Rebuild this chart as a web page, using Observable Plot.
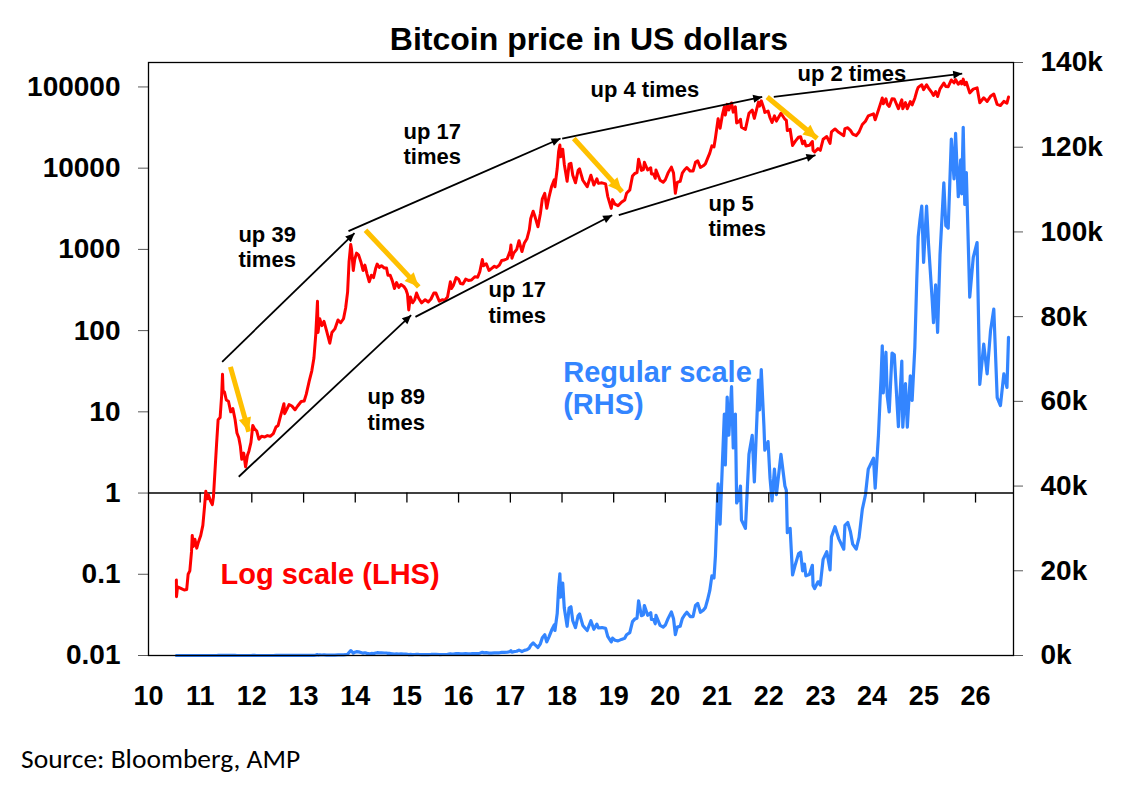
<!DOCTYPE html>
<html><head><meta charset="utf-8">
<script src="https://cdn.jsdelivr.net/npm/d3@7"></script>
<script src="https://cdn.jsdelivr.net/npm/@observablehq/plot@0.6"></script>
<style>
html,body{margin:0;padding:0;background:#fff;overflow:hidden}
#wrap{position:relative;width:1121px;height:786px;background:#fff;font-family:"Liberation Sans",Arial,sans-serif}
.layer{position:absolute;left:0;top:0}
#title{position:absolute;left:589px;top:23px;transform:translateX(-50%);font-size:32px;font-weight:bold;line-height:32px;white-space:nowrap;color:#000}
#source{position:absolute;left:21px;top:745px;font-size:27.5px;line-height:28px;color:#000;white-space:nowrap;font-family:Carlito,"Liberation Sans",Arial,sans-serif}
</style></head>
<body>
<div id="wrap">
<div id="lin" class="layer"></div>
<div id="log" class="layer"></div>
<div id="title">Bitcoin price in US dollars</div>
<div id="source">Source: Bloomberg, AMP</div>
</div>
<script>
// ---- Bitcoin price (US$) ----
const priceDates = [
"2010-07-17","2010-07-18","2010-07-25","2010-08-10","2010-08-25","2010-09-10","2010-09-28","2010-10-08","2010-10-20","2010-11-01",
"2010-11-06","2010-11-14","2010-11-25","2010-12-08","2010-12-20","2011-01-05","2011-01-20","2011-02-01","2011-02-10","2011-02-20",
"2011-03-01","2011-03-15","2011-03-28","2011-04-05","2011-04-16","2011-04-27","2011-05-08","2011-05-22","2011-06-02","2011-06-08",
"2011-06-12","2011-06-22","2011-07-05","2011-07-20","2011-08-05","2011-08-20","2011-09-05","2011-09-18","2011-10-01","2011-10-12",
"2011-10-22","2011-11-05","2011-11-18","2011-12-01","2011-12-12","2011-12-26","2012-01-08","2012-01-20","2012-02-05","2012-02-20",
"2012-03-10","2012-04-01","2012-04-20","2012-05-10","2012-06-01","2012-06-20","2012-07-05","2012-07-20","2012-08-15","2012-08-20",
"2012-09-05","2012-09-20","2012-10-10","2012-11-01","2012-11-20","2012-12-15","2013-01-05","2013-01-20","2013-02-10","2013-02-28",
"2013-03-15","2013-03-28","2013-04-09","2013-04-13","2013-04-25","2013-05-10","2013-05-25","2013-06-12","2013-07-05","2013-07-20",
"2013-08-10","2013-09-01","2013-09-20","2013-10-10","2013-10-25","2013-11-08","2013-11-18","2013-11-30","2013-12-06","2013-12-18",
"2013-12-28","2014-01-10","2014-01-25","2014-02-10","2014-02-25","2014-03-10","2014-03-25","2014-04-10","2014-04-25","2014-05-10",
"2014-05-25","2014-06-05","2014-06-20","2014-07-05","2014-07-25","2014-08-10","2014-08-20","2014-09-05","2014-09-20","2014-10-05",
"2014-10-20","2014-11-05","2014-11-20","2014-12-10","2014-12-25","2015-01-05","2015-01-14","2015-01-25","2015-02-10","2015-02-25",
"2015-03-10","2015-03-25","2015-04-15","2015-05-10","2015-06-01","2015-06-20","2015-07-10","2015-07-25","2015-08-18","2015-09-10",
"2015-09-25","2015-10-15","2015-11-04","2015-11-12","2015-11-25","2015-12-15","2016-01-01","2016-01-15","2016-02-01","2016-02-20",
"2016-03-10","2016-04-01","2016-04-25","2016-05-15","2016-05-30","2016-06-17","2016-06-25","2016-07-15","2016-08-03","2016-08-20",
"2016-09-10","2016-09-25","2016-10-15","2016-11-01","2016-11-20","2016-12-10","2016-12-31","2017-01-05","2017-01-12","2017-01-25",
"2017-02-15","2017-03-03","2017-03-24","2017-04-10","2017-04-28","2017-05-15","2017-05-25","2017-06-11","2017-06-25","2017-07-15",
"2017-08-01","2017-08-15","2017-09-01","2017-09-15","2017-10-01","2017-10-20","2017-11-07","2017-11-12","2017-11-28","2017-12-08",
"2017-12-17","2017-12-22","2018-01-06","2018-01-17","2018-02-06","2018-02-20","2018-03-05","2018-03-18","2018-04-06","2018-04-25",
"2018-05-05","2018-05-28","2018-06-12","2018-06-28","2018-07-24","2018-08-14","2018-09-04","2018-09-15","2018-10-10","2018-11-05",
"2018-11-20","2018-12-15","2018-12-24","2019-01-10","2019-02-01","2019-02-25","2019-03-20","2019-04-02","2019-04-25","2019-05-14",
"2019-05-30","2019-06-15","2019-06-26","2019-07-16","2019-07-30","2019-08-06","2019-08-29","2019-09-20","2019-09-25","2019-10-10",
"2019-10-22","2019-10-27","2019-11-25","2019-12-17","2020-01-01","2020-01-20","2020-02-13","2020-02-28","2020-03-12","2020-03-25",
"2020-04-15","2020-04-30","2020-05-15","2020-06-01","2020-06-25","2020-07-15","2020-08-01","2020-08-17","2020-09-05","2020-09-25",
"2020-10-10","2020-10-25","2020-11-10","2020-11-25","2020-12-10","2020-12-20","2021-01-08","2021-01-22","2021-02-08","2021-02-21",
"2021-02-28","2021-03-13","2021-03-25","2021-04-13","2021-04-25","2021-05-10","2021-05-19","2021-06-01","2021-06-15","2021-06-22",
"2021-07-20","2021-08-14","2021-09-06","2021-09-21","2021-10-20","2021-10-28","2021-11-09","2021-11-28","2021-12-04","2021-12-27",
"2022-01-10","2022-01-24","2022-02-10","2022-02-24","2022-03-28","2022-04-25","2022-05-05","2022-05-12","2022-06-01","2022-06-18",
"2022-07-08","2022-07-30","2022-08-14","2022-08-28","2022-09-10","2022-09-20","2022-10-15","2022-11-05","2022-11-10","2022-11-21",
"2022-12-15","2022-12-31","2023-01-20","2023-02-15","2023-03-10","2023-03-20","2023-04-14","2023-05-10","2023-06-15","2023-06-23",
"2023-07-13","2023-08-01","2023-08-17","2023-09-11","2023-10-01","2023-10-24","2023-11-15","2023-12-05","2024-01-11","2024-01-23",
"2024-02-15","2024-03-05","2024-03-13","2024-03-20","2024-04-08","2024-04-17","2024-05-01","2024-05-21","2024-06-06","2024-07-05",
"2024-07-29","2024-08-05","2024-08-24","2024-09-06","2024-09-27","2024-10-10","2024-10-29","2024-11-12","2024-11-22","2024-12-05",
"2024-12-17","2024-12-30","2025-01-20","2025-02-03","2025-02-28","2025-03-10","2025-03-25","2025-04-08","2025-04-25","2025-05-22",
"2025-06-05","2025-06-22","2025-07-14","2025-08-02","2025-08-13","2025-09-01","2025-09-18","2025-09-25","2025-10-06","2025-10-17",
"2025-10-28","2025-11-21","2025-12-16","2026-01-12","2026-01-31","2026-02-28","2026-03-24","2026-04-17","2026-05-10","2026-06-03",
"2026-06-26","2026-07-20","2026-08-11","2026-08-22"
];
const priceUsd = [
0.085,0.053,0.070,0.068,0.066,0.064,0.065,0.10,0.11,0.19,
0.30,0.22,0.27,0.21,0.25,0.30,0.40,0.68,1.05,0.85,
0.95,0.80,0.72,0.90,1.9,4.0,8.0,8.5,16,29,
18,17.5,14,13.5,10,11,8,5.5,4.8,3.8,
2.6,3.1,2.1,2.9,3.3,4.2,6.8,6.2,5.8,4.6,
5.0,4.9,5.1,5.0,5.4,6.5,6.8,8.6,12.6,9.5,
10.8,12.3,11.8,10.6,11.8,13.4,13.6,16.5,24,32,
46,90,230,95,140,115,130,100,70,95,
105,135,125,140,190,300,700,1150,1000,550,
750,900,850,700,550,640,500,400,480,450,
580,660,600,630,590,590,480,480,410,330,
390,340,370,350,320,280,180,260,220,240,
290,250,220,240,225,245,290,290,230,240,
235,260,400,330,360,450,430,380,375,430,
415,420,460,455,530,750,630,665,550,580,
620,600,640,730,740,770,960,1130,780,900,
1000,1280,940,1200,1350,1750,2400,2950,2500,1900,
2750,4200,4900,3200,4400,6000,7200,5900,9900,16000,
19300,13800,17100,11200,6900,11200,11500,8200,6600,9400,
9800,7100,6500,5900,8200,6200,7400,6500,6600,6400,
4500,3200,4100,3600,3450,3800,4050,4900,5400,8000,
8600,8800,12900,9400,9600,11800,9500,10100,8500,8500,
7500,9500,7100,6700,7200,8700,10300,8700,4900,6700,
6900,8700,9500,10200,9200,9200,11800,12300,10200,10700,
11300,13100,15300,18800,18300,23500,40500,31000,46000,57000,
45000,61000,52000,63500,49000,57000,36000,37000,40000,32000,
30000,47500,52000,41000,65000,58000,67500,54000,48500,50500,
41800,36500,44000,38000,47500,40000,39000,29000,30000,19000,
21500,24000,24400,20000,21600,18800,19100,21300,16500,15800,
17400,16600,22700,24500,20200,28000,30400,27600,25100,30700,
31400,29200,26300,25100,27900,34500,37900,44000,46600,39500,
52000,66000,73100,62000,71600,61300,57500,71400,71000,54000,
69500,53900,64200,53900,66000,60200,72700,89000,98900,103000,
106100,92800,106100,97000,84300,78600,87500,76300,94600,111600,
101500,100900,121900,112500,123300,108300,117000,109000,124700,106500,
114000,84600,94000,97500,64000,73500,66500,76700,81800,60900,
59000,66500,63300,75100
];

// ---- axes ----
const yearTicks = [2010,2011,2012,2013,2014,2015,2016,2017,2018,2019,2020,2021,2022,2023,2024,2025,2026];
const logTicks = [0.01,0.1,1,10,100,1000,10000,100000];
const logDomain = [0.01, 200000];
const rhsTicks = [0,20000,40000,60000,80000,100000,120000,140000];
const rhsDomain = [0, 140000];
const xEndYear = 2026.735;

// ---- annotations (decimal year, US$) ----
const noteText = ["up 39\ntimes","up 89\ntimes","up 17\ntimes","up 17\ntimes","up 4 times","up 5\ntimes","up 2 times"];
const noteYear = [2011.741, 2014.237, 2014.933, 2016.578, 2018.551, 2020.834, 2022.556];
const noteUsd  = [1095, 10.8, 20290, 227, 96400, 2637, 151700];

const trendFromYear = [2011.426, 2013.869, 2018.003, 2022.097, 2011.747, 2015.165, 2019.099];
const trendFromUsd  = [41.3, 1676, 23170, 75300, 1.587, 147.8, 2637];
const trendToYear   = [2013.985, 2017.971, 2021.873, 2025.742, 2015.082, 2018.971, 2022.904];
const trendToUsd    = [1584, 23170, 75300, 146200, 155, 2637, 14440];

const dropFromYear = [2011.586, 2014.198, 2018.228, 2021.969];
const dropFromUsd  = [35.8, 1724, 23170, 75300];
const dropToYear   = [2011.940, 2015.229, 2019.164, 2022.937];
const dropToUsd    = [5.68, 345.8, 5100, 23170];

const logLabel = {text: "Log scale (LHS)", year: 2011.393, usd: 0.098};
const rhsLabel = {text: "Regular scale\n(RHS)", year: 2018.023, usd: 63100};

// ---- build ----
function yearToDate(y) {
  const yr = Math.floor(y);
  const a = Date.UTC(yr, 0, 1), b = Date.UTC(yr + 1, 0, 1);
  return new Date(a + (y - yr) * (b - a));
}
const series = priceDates.map((d, i) => ({date: new Date(d + "T00:00:00Z"), usd: priceUsd[i]}));
const tickDates = yearTicks.map(y => new Date(Date.UTC(y, 0, 1)));
const notes = noteText.map((t, i) => ({text: t, date: yearToDate(noteYear[i]), usd: noteUsd[i]}));
const trends = trendFromYear.map((y, i) => ({x1: yearToDate(y), y1: trendFromUsd[i], x2: yearToDate(trendToYear[i]), y2: trendToUsd[i]}));
const drops = dropFromYear.map((y, i) => ({x1: yearToDate(y), y1: dropFromUsd[i], x2: yearToDate(dropToYear[i]), y2: dropToUsd[i]}));

const FONT = "Liberation Sans, Arial, Helvetica, sans-serif";
const common = {width: 1121, height: 730, marginTop: 62, marginBottom: 75, marginLeft: 148, marginRight: 108};
const xScale = {type: "utc", domain: [tickDates[0], yearToDate(xEndYear)]};
const style = {background: "transparent", fontFamily: FONT, fontWeight: "bold", color: "#000", overflow: "visible"};

function headMarker(size) {
  return (color) => {
    const ns = "http://www.w3.org/2000/svg";
    const m = document.createElementNS(ns, "marker");
    m.setAttribute("viewBox", "-6 -4 8 8");
    m.setAttribute("refX", "2");
    m.setAttribute("refY", "0");
    m.setAttribute("markerWidth", size);
    m.setAttribute("markerHeight", size);
    m.setAttribute("orient", "auto");
    m.setAttribute("overflow", "visible");
    const p = document.createElementNS(ns, "path");
    p.setAttribute("d", "M-6,-3.6L2,0L-6,3.6Z");
    p.setAttribute("fill", color);
    p.setAttribute("stroke", "none");
    m.appendChild(p);
    return m;
  };
}

function arrowMarks(custom) {
  if (custom) {
    return [
      Plot.link(trends, {x1: "x1", y1: "y1", x2: "x2", y2: "y2", stroke: "#000", strokeWidth: 1.8, markerEnd: headMarker(5)}),
      Plot.link(drops, {x1: "x1", y1: "y1", x2: "x2", y2: "y2", stroke: "#ffc000", strokeWidth: 5, markerEnd: headMarker(2.8)})
    ];
  }
  return [
    Plot.arrow(trends, {x1: "x1", y1: "y1", x2: "x2", y2: "y2", stroke: "#000", strokeWidth: 1.8, headLength: 9}),
    Plot.arrow(drops, {x1: "x1", y1: "y1", x2: "x2", y2: "y2", stroke: "#ffc000", strokeWidth: 5, headLength: 12})
  ];
}

function makeLog(custom) {
  return Plot.plot({
    ...common,
    style,
    x: xScale,
    y: {type: "log", domain: logDomain},
    marks: [
      Plot.ruleY([1], {stroke: "#000", strokeWidth: 1.5}),
      Plot.ruleX(tickDates.slice(1), {x: d => d, y1: 1, y2: 1, insetBottom: -10, stroke: "#000", strokeWidth: 1.3}),
      Plot.line(series, {x: "date", y: "usd", stroke: "#ff0000", strokeWidth: 3, strokeLinejoin: "round"}),
      ...arrowMarks(custom),
      Plot.text(notes, {x: "date", y: "usd", text: "text", fontSize: 22, fontWeight: "bold", textAnchor: "start", lineHeight: 1.18, fill: "#000"}),
      Plot.text([logLabel], {x: d => yearToDate(d.year), y: "usd", text: "text", fontSize: 29, fontWeight: "bold", textAnchor: "start", fill: "#ff0000"}),
      Plot.axisY({ticks: logTicks, tickFormat: d => String(d), tickSize: 10, tickPadding: 18, fontSize: 28, stroke: "#595959", fill: "#000", label: null}),
      Plot.axisX({ticks: tickDates, tickFormat: d => String(d.getUTCFullYear()).slice(2), tickSize: 0, tickPadding: 30, fontSize: 27, fill: "#000", label: null}),
      Plot.frame({stroke: "#000", strokeWidth: 1.3})
    ]
  });
}

let logChart;
try { logChart = makeLog(true); } catch (e) { logChart = makeLog(false); }
document.getElementById("log").appendChild(logChart);

const linChart = Plot.plot({
  ...common,
  style,
  x: {...xScale, axis: null},
  y: {domain: rhsDomain},
  marks: [
    Plot.line(series, {x: "date", y: "usd", stroke: "#3385ff", strokeWidth: 3.2, strokeLinejoin: "round"}),
    Plot.text([rhsLabel], {x: d => yearToDate(d.year), y: "usd", text: "text", fontSize: 29, fontWeight: "bold", textAnchor: "start", lineHeight: 1.1, fill: "#3385ff"}),
    Plot.axisY({anchor: "right", ticks: rhsTicks, tickFormat: d => (d / 1000) + "k", tickSize: 9, tickPadding: 18, fontSize: 28, stroke: "#595959", fill: "#000", label: null})
  ]
});
document.getElementById("lin").appendChild(linChart);
</script>
</body></html>
